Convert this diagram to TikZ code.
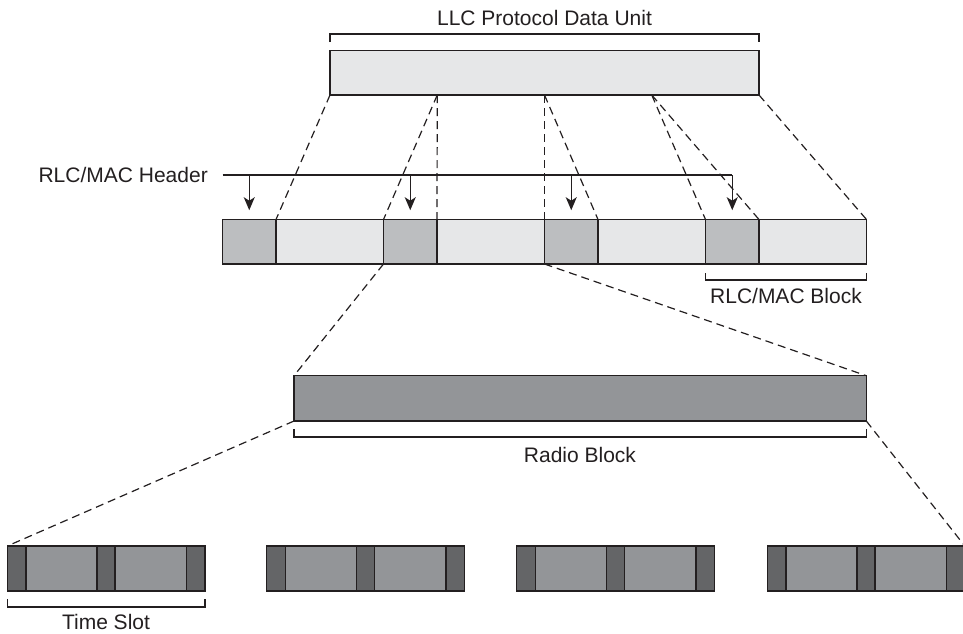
\documentclass[tikz,border=0pt]{standalone}
\usepackage{fontspec}
\setmainfont{Liberation Sans}
\usetikzlibrary{arrows.meta,calc}
\definecolor{lineC}{HTML}{231F20}
\definecolor{lightC}{HTML}{E6E7E8}
\definecolor{hdrC}{HTML}{BCBEC0}
\definecolor{midC}{HTML}{939598}
\definecolor{darkC}{HTML}{646567}
\begin{document}
\begin{tikzpicture}[x=1pt,y=-1pt,
  font=\fontsize{21}{25}\selectfont, text=lineC,
  box/.style={draw=lineC, line width=1.4pt, inner sep=0pt, outer sep=0pt, anchor=north west},
  dashline/.style={draw=lineC, line width=1.2pt, dash pattern=on 8pt off 5pt},
  bracket/.style={draw=lineC, line width=1.3pt},
  arr/.style={draw=lineC, line width=1.3pt, -{Stealth[length=13pt,width=11pt,inset=3.5pt]}, shorten >=9.3pt},
  lbl/.style={anchor=base, inner sep=0pt}
]
\useasboundingbox (0,0) rectangle (963,633);

% LLC PDU
\node[box, fill=lightC, minimum width=429pt, minimum height=44.3pt] (llc) at (330,50.7) {};
\coordinate (q1) at ($(llc.south west)!0.25!(llc.south east)$);
\coordinate (q2) at ($(llc.south west)!0.5!(llc.south east)$);
\coordinate (q3) at ($(llc.south west)!0.75!(llc.south east)$);
\draw[bracket] (330,42) -- (330,34) -- (759,34) -- (759,42);
\node[lbl] (llclbl) at (544.5,25) {LLC Protocol Data Unit};

% RLC/MAC blocks
\foreach \i [evaluate=\i as \x using 222.5+(\i-1)*161] in {1,...,4} {
  \node[box, fill=lightC, minimum width=107.5pt, minimum height=44.5pt] (d\i) at (\x+53.5,219.5) {};
  \node[box, fill=hdrC, minimum width=53.5pt, minimum height=44.5pt] (h\i) at (\x,219.5) {};
}

% header line and arrows
\node[lbl, anchor=base east] (hdrlbl) at (208,182) {RLC/MAC Header};
\coordinate (hl) at (222.7,175);
\draw[line width=1.3pt, lineC] (hl) -- (h4.north |- hl);
\foreach \i in {1,...,4} \draw[arr] (h\i.north |- hl) -- (h\i.north);

% dashed mapping LLC -> blocks
\draw[dashline] (llc.south west) -- (d1.north west);
\draw[dashline] (q1) -- (h2.north west);
\draw[dashline] (q1) -- (d2.north west);
\draw[dashline] (q2) -- (d2.north east);
\draw[dashline] (q2) -- (d3.north west);
\draw[dashline] (q3) -- (d3.north east);
\draw[dashline] (q3) -- (d4.north west);
\draw[dashline] (llc.south east) -- (d4.north east);

% RLC/MAC Block bracket
\draw[bracket] (705.3,273) -- (705.3,280) -- (866.5,280) -- (866.5,273);
\node[lbl] (blklbl) at (786,303) {RLC/MAC Block};

% Radio block
\node[box, fill=midC, minimum width=572.3pt, minimum height=45.3pt] (radio) at (294,375.7) {};
\draw[dashline] (h2.south west) -- (radio.north west);
\draw[dashline] (d2.south east) -- (radio.north east);
\draw[bracket] (294,429) -- (294,437) -- (866.3,437) -- (866.3,429);
\node[lbl] (radlbl) at (580,462) {Radio Block};

% Time slots
\foreach \s/\x in {1/7.3,2/266.7,3/516.7,4/767.3} {
  \node[box, fill=darkC, minimum width=18.5pt, minimum height=45pt] (a\s) at (\x,546) {};
  \node[box, fill=midC, minimum width=71.3pt, minimum height=45pt] (b\s) at (a\s.north east) {};
  \node[box, fill=darkC, minimum width=18pt, minimum height=45pt] (c\s) at (b\s.north east) {};
  \node[box, fill=midC, minimum width=71.4pt, minimum height=45pt] (e\s) at (c\s.north east) {};
  \node[box, fill=darkC, minimum width=18.3pt, minimum height=45pt] (f\s) at (e\s.north east) {};
}
\draw[dashline] (radio.south west) -- (a1.north west);
\draw[dashline] (radio.south east) -- (f4.north east);

\draw[bracket] (7.3,599) -- (7.3,607) -- (205,607) -- (205,599);
\node[lbl] (tslbl) at (106,629.5) {Time Slot};
\end{tikzpicture}
\end{document}
